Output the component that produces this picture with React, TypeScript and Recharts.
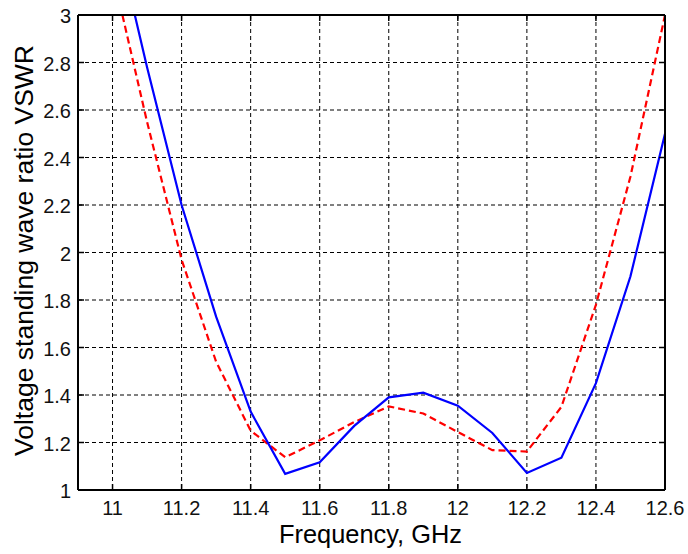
import React from 'react';
import { LineChart, Line, XAxis, YAxis, CartesianGrid, Label } from 'recharts';

const xTicks = [11, 11.2, 11.4, 11.6, 11.8, 12, 12.2, 12.4, 12.6];
const yTicks = [1, 1.2, 1.4, 1.6, 1.8, 2, 2.2, 2.4, 2.6, 2.8, 3];

const blueFreq = [11.0, 11.1, 11.2, 11.3, 11.4, 11.5, 11.6, 11.7, 11.8, 11.9, 12.0, 12.1, 12.2, 12.3, 12.4, 12.5, 12.6];
const blueVswr = [3.4, 2.78, 2.2, 1.73, 1.33, 1.068, 1.117, 1.27, 1.39, 1.41, 1.355, 1.24, 1.072, 1.136, 1.45, 1.9, 2.5];

const redFreq = [11.0, 11.1, 11.2, 11.3, 11.4, 11.5, 11.6, 11.7, 11.8, 11.9, 12.0, 12.1, 12.2, 12.3, 12.4, 12.5, 12.6];
const redVswr = [3.18, 2.55, 1.97, 1.54, 1.25, 1.138, 1.209, 1.286, 1.352, 1.322, 1.244, 1.168, 1.162, 1.35, 1.78, 2.32, 3.0];

const blueData = blueFreq.map((f, i) => ({ f, v: blueVswr[i] }));
const redData = redFreq.map((f, i) => ({ f, v: redVswr[i] }));

const FONT = 'Arial, "Liberation Sans", Helvetica, sans-serif';

const BottomTick = (props: any) => {
  const { x, y, payload } = props;
  return (
    <g>
      <line x1={x} x2={x} y1={y} y2={y - 6} stroke="#000" strokeWidth={1.5} />
      <text x={x} y={y + 25} textAnchor="middle" fontFamily={FONT} fontSize={20} fill="#111">
        {payload.value}
      </text>
    </g>
  );
};

const LeftTick = (props: any) => {
  const { x, y, payload } = props;
  return (
    <g>
      <line x1={x} x2={x + 6} y1={y} y2={y} stroke="#000" strokeWidth={1.5} />
      <text x={x - 7} y={y} dy="0.4em" textAnchor="end" fontFamily={FONT} fontSize={20} fill="#111">
        {payload.value}
      </text>
    </g>
  );
};

const TopTick = (props: any) => {
  const { x, y } = props;
  return <line x1={x} x2={x} y1={y} y2={y + 6} stroke="#000" strokeWidth={1.5} />;
};

const RightTick = (props: any) => {
  const { x, y } = props;
  return <line x1={x} x2={x - 6} y1={y} y2={y} stroke="#000" strokeWidth={1.5} />;
};

const YLabel = (props: any) => {
  const vb = props.viewBox || { x: 0, y: 15, width: 78, height: 475 };
  const cx = vb.x + 33;
  const cy = vb.y + vb.height / 2 - 2;
  return (
    <text
      x={cx}
      y={cy}
      transform={`rotate(-90, ${cx}, ${cy})`}
      textAnchor="middle"
      fontFamily={FONT}
      fontSize={26.5}
      fill="#000"
    >
      Voltage standing wave ratio VSWR
    </text>
  );
};

const XLabel = (props: any) => {
  const vb = props.viewBox || { x: 78, y: 490, width: 587, height: 64 };
  const cx = vb.x + vb.width / 2 - 1;
  return (
    <text x={cx} y={vb.y + 53} textAnchor="middle" fontFamily={FONT} fontSize={25.4} fill="#000">
      Frequency, GHz
    </text>
  );
};

export default function App() {
  return (
    <div style={{ position: 'absolute', left: 0, top: 0, background: '#fff' }}>
      <LineChart width={688} height={554} margin={{ top: 14, right: 22, bottom: 0, left: 0 }}>
        <CartesianGrid stroke="#000" strokeDasharray="4 3" strokeWidth={1} />
        <XAxis
          dataKey="f"
          type="number"
          domain={[10.9, 12.6]}
          ticks={xTicks}
          interval={0}
          allowDataOverflow
          height={64}
          tickSize={0}
          tickMargin={0}
          tickLine={false}
          tick={<BottomTick />}
          axisLine={{ stroke: '#000', strokeWidth: 2 }}
        >
          <Label content={<XLabel />} />
        </XAxis>
        <XAxis
          xAxisId="top"
          orientation="top"
          dataKey="f"
          type="number"
          domain={[10.9, 12.6]}
          ticks={xTicks}
          interval={0}
          allowDataOverflow
          height={1}
          tickSize={0}
          tickMargin={0}
          tickLine={false}
          tick={<TopTick />}
          axisLine={{ stroke: '#000', strokeWidth: 2 }}
        />
        <YAxis
          type="number"
          domain={[1, 3]}
          ticks={yTicks}
          interval={0}
          allowDataOverflow
          width={78}
          tickSize={0}
          tickMargin={0}
          tickLine={false}
          tick={<LeftTick />}
          axisLine={{ stroke: '#000', strokeWidth: 2 }}
        >
          <Label content={<YLabel />} />
        </YAxis>
        <YAxis
          yAxisId="right"
          orientation="right"
          type="number"
          domain={[1, 3]}
          ticks={yTicks}
          interval={0}
          allowDataOverflow
          width={1}
          tickSize={0}
          tickMargin={0}
          tickLine={false}
          tick={<RightTick />}
          axisLine={{ stroke: '#000', strokeWidth: 2 }}
        />
        <Line
          data={redData}
          dataKey="v"
          type="linear"
          stroke="#ff0000"
          strokeWidth={2.2}
          strokeDasharray="7 4"
          dot={false}
          isAnimationActive={false}
        />
        <Line
          data={blueData}
          dataKey="v"
          type="linear"
          stroke="#0000ff"
          strokeWidth={2.2}
          dot={false}
          isAnimationActive={false}
        />
      </LineChart>
    </div>
  );
}
